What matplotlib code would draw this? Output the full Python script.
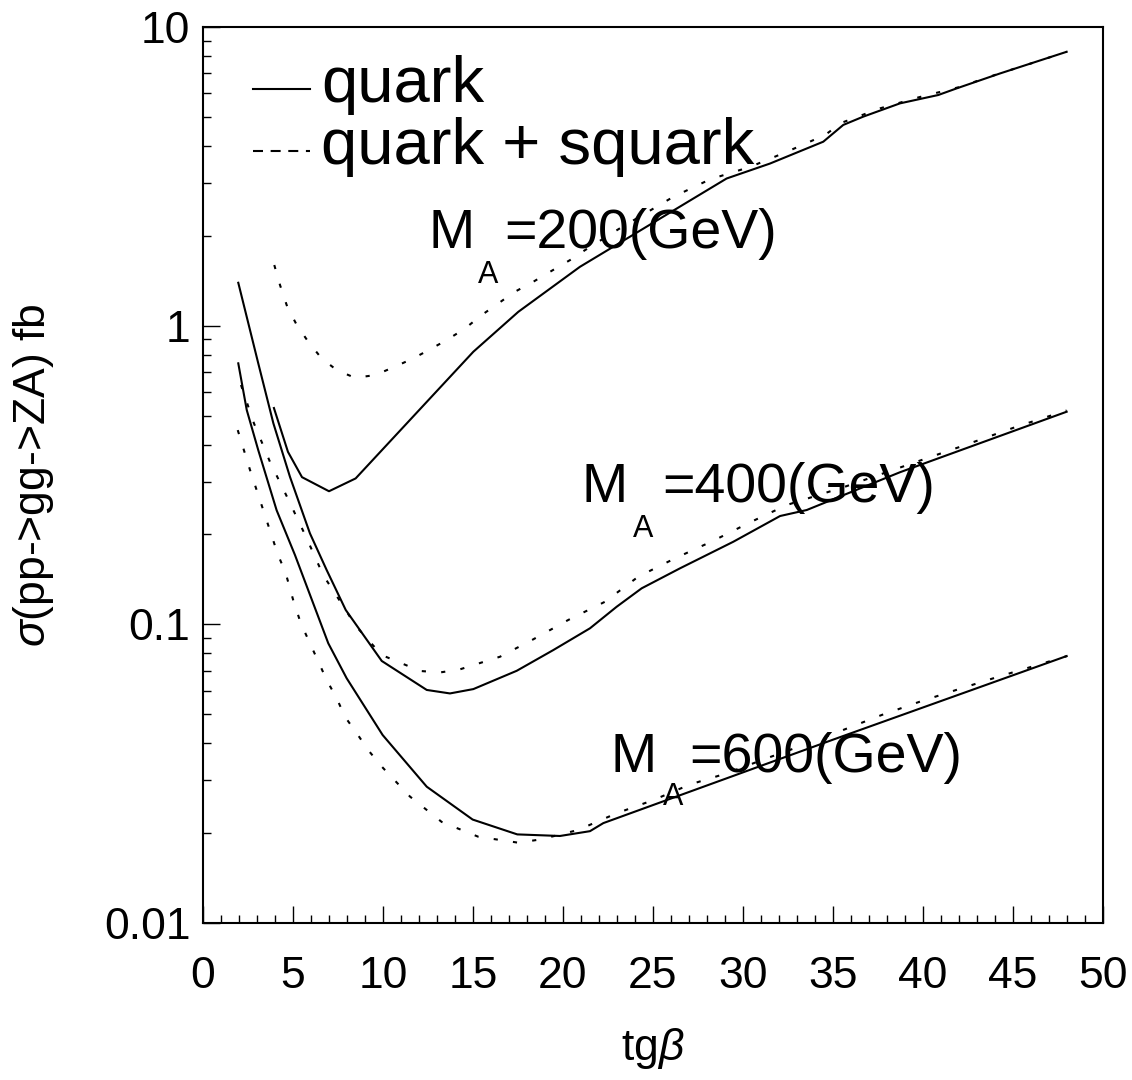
import matplotlib
matplotlib.use("Agg")
import matplotlib.pyplot as plt
from matplotlib.lines import Line2D
from matplotlib.legend_handler import HandlerLine2D
from matplotlib.ticker import MultipleLocator, FixedLocator, LogLocator, NullFormatter

# tg(beta) vs sigma(pp->gg->ZA) [fb]
ma200_q_x = [3.94, 4.72, 5.5, 7.0, 8.48, 15.02, 17.52, 20.94, 29.09, 31.5, 34.46, 35.57,
             36.68, 38.72, 40.85, 41.87, 44.28, 47.98]
ma200_q_y = [0.530, 0.378, 0.311, 0.279, 0.308, 0.818, 1.113, 1.574, 3.11, 3.49, 4.13, 4.70,
             5.01, 5.55, 5.92, 6.23, 6.99, 8.26]
ma200_qs_x = [3.96, 4.28, 4.68, 5.21, 5.85, 6.59, 7.43, 8.44, 9.56, 10.57, 11.68, 12.61,
              13.54, 14.56, 15.48, 16.41, 17.33, 18.35, 19.28, 20.39, 21.22, 23.17, 26.13,
              28.17, 30.39, 32.43, 34.56, 35.48, 37.61, 39.74, 41.96, 44.09, 46.0, 47.98]
ma200_qs_y = [1.596, 1.367, 1.157, 1.005, 0.883, 0.777, 0.710, 0.669, 0.683, 0.725, 0.777, 0.833,
              0.895, 0.979, 1.085, 1.188, 1.299, 1.403, 1.515, 1.658, 1.79, 2.12, 2.70,
              3.09, 3.40, 3.82, 4.35, 4.78, 5.34, 5.81, 6.28, 6.94, 7.55, 8.26]

ma400_q_x = [1.96, 3.07, 3.91, 4.83, 5.94, 6.87, 7.93, 9.93, 12.43, 13.72, 15.02, 17.43,
             19.46, 21.5, 22.98, 24.37, 26.5, 29.46, 32.06, 33.54, 38.72, 47.98]
ma400_q_y = [1.392, 0.748, 0.471, 0.312, 0.2017, 0.152, 0.1117, 0.0754, 0.0603, 0.0587, 0.0607, 0.0699,
             0.082, 0.097, 0.1145, 0.132, 0.154, 0.189, 0.2305, 0.2414, 0.323, 0.515]
ma400_qs_x = [2.11, 2.83, 3.72, 4.71, 5.72, 6.68, 7.93, 8.44, 9.93, 12.06, 13.17, 14.28,
              16.5, 18.35, 20.29, 22.33, 24.18, 26.22, 28.35, 30.39, 32.43, 35.67, 39.93,
              42.06, 45.2, 47.98]
ma400_qs_y = [0.633, 0.471, 0.350, 0.264, 0.1965, 0.146, 0.1117, 0.0995, 0.0789, 0.0698, 0.069, 0.0707,
              0.0779, 0.0891, 0.1034, 0.119, 0.1444, 0.1663, 0.1905, 0.2195, 0.2509, 0.289, 0.355,
              0.393, 0.459, 0.52]

ma600_q_x = [1.96, 2.43, 3.07, 4.09, 5.11, 6.96, 7.98, 9.98, 12.43, 14.98, 17.46, 19.83,
             21.5, 22.24, 35.0, 47.98]
ma600_q_y = [0.748, 0.522, 0.383, 0.241, 0.1706, 0.0864, 0.066, 0.0426, 0.0286, 0.0222, 0.0198, 0.01956,
             0.0203, 0.0216, 0.0411, 0.0783]
ma600_qs_x = [1.93, 2.61, 3.35, 4.15, 4.6, 5.02, 5.43, 5.94, 6.41, 6.87, 7.43, 7.89, 8.54, 9.18,
              9.93, 11.5, 13.26, 15.29, 17.52, 18.63, 19.74, 20.85, 21.87, 22.98, 25.02, 27.06,
              29.09, 31.31, 33.35, 35.57, 37.7, 39.83, 41.96, 44.09, 46.0, 48.0]
ma600_qs_y = [0.447, 0.329, 0.241, 0.172, 0.148, 0.12, 0.101, 0.0864, 0.075, 0.0651, 0.0565, 0.049,
              0.0432, 0.0379, 0.0334, 0.0265, 0.0218, 0.01945, 0.01857, 0.019, 0.0197, 0.0205,
              0.0218, 0.0233, 0.0258, 0.0291, 0.0317, 0.0356, 0.0394, 0.0443, 0.0497, 0.0551,
              0.0606, 0.0665, 0.072, 0.0783]

x_ticks = [0, 5, 10, 15, 20, 25, 30, 35, 40, 45, 50]
y_ticks = [0.01, 0.1, 1, 10]
y_labels = ["0.01", "0.1", "1", "10"]
mass_labels = ["200", "400", "600"]

plt.rcParams["lines.scale_dashes"] = False
plt.rcParams["mathtext.fontset"] = "custom"
plt.rcParams["mathtext.rm"] = "Liberation Sans"
plt.rcParams["mathtext.it"] = "Liberation Sans:italic"
plt.rcParams["font.family"] = ["Liberation Sans", "DejaVu Sans"]


class LowKey(HandlerLine2D):
    # legend key drawn at mid x-height, not at the text box centre
    def create_artists(self, legend, orig_handle, xdescent, ydescent, width, height, fontsize, trans):
        return super().create_artists(legend, orig_handle, xdescent, ydescent + 14,
                                      width, height, fontsize, trans)


DOT = (0, (3, 11))
fig = plt.figure(figsize=(11.32, 10.8), dpi=100)
ax = fig.add_axes([203 / 1132, 157 / 1080, 900 / 1132, 896 / 1080])

for xs, ys, st in [(ma200_q_x, ma200_q_y, "-"), (ma200_qs_x, ma200_qs_y, DOT),
                   (ma400_q_x, ma400_q_y, "-"), (ma400_qs_x, ma400_qs_y, DOT),
                   (ma600_q_x, ma600_q_y, "-"), (ma600_qs_x, ma600_qs_y, DOT)]:
    ax.plot(xs, ys, color="k", lw=1.5, ls=st)

ax.set_yscale("log")
ax.set_xlim(0, 50); ax.set_ylim(0.01, 10)
ax.set_xticks(x_ticks, [str(v) for v in x_ticks], fontsize=32)
ax.xaxis.set_minor_locator(MultipleLocator(1))
ax.yaxis.set_major_locator(FixedLocator(y_ticks))
ax.set_yticklabels(y_labels, fontsize=32)
ax.yaxis.set_minor_locator(LogLocator(base=10, subs=range(2, 10)))
ax.yaxis.set_minor_formatter(NullFormatter())
ax.tick_params(which="both", direction="in", top=False, right=False, color="k")
ax.tick_params(which="major", length=12.5, width=1)
ax.tick_params(which="minor", length=6, width=1)
ax.tick_params(axis="x", pad=24)
ax.tick_params(axis="y", pad=9)
for s in ax.spines.values():
    s.set_linewidth(1.5)

ax.set_xlabel(r"tg$\beta$", fontsize=32)
ax.xaxis.set_label_coords(0.5, -0.115)
ax.set_ylabel(r"$\sigma$(pp->gg->ZA) fb", fontsize=32)
ax.yaxis.set_label_coords(-0.163, 0.5)

# M_A labels: (M x, baseline y, A x, A baseline, "=" x) in axes fraction
pos = [(0.251, 0.7533, 0.3056, 0.7143, 0.3345),
       (0.420, 0.4699, 0.4778, 0.4308, 0.5100),
       (0.453, 0.1689, 0.5111, 0.1317, 0.5400)]
for lab, (mx, my, axx, ayy, ex) in zip(mass_labels, pos):
    ax.text(mx, my, "M", transform=ax.transAxes, fontsize=40, va="baseline")
    ax.text(axx, ayy, "A", transform=ax.transAxes, fontsize=22, va="baseline")
    ax.text(ex, my, f"={lab}(GeV)", transform=ax.transAxes, fontsize=40, va="baseline")

handles = [Line2D([], [], color="k", lw=1.5),
           Line2D([], [], color="k", lw=1.5, ls=(0, (7.2, 5.5)))]
ax.legend(handles, ["quark", "quark + squark"], loc="upper left",
          bbox_to_anchor=(0.0556, 0.969), frameon=False, fontsize=47,
          handlelength=0.87, handletextpad=0.17, labelspacing=0.03,
          borderpad=0, borderaxespad=0,
          handler_map={Line2D: LowKey()})

fig.savefig("out.png", dpi=100)
